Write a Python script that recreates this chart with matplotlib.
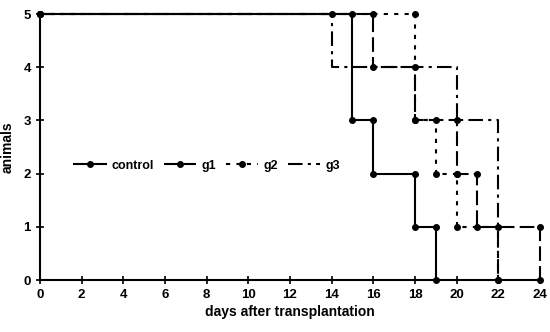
import matplotlib

matplotlib.use("Agg")
import matplotlib.pyplot as plt
from matplotlib.lines import Line2D

# step curves: corners (day, animals)
control_x = [0, 15, 15, 16, 16, 18, 18, 19, 19]
control_y = [5, 5, 3, 3, 2, 2, 1, 1, 0]

g1_x = [0, 16, 16, 18, 18, 20, 20, 21, 21, 24, 24]
g1_y = [5, 5, 4, 4, 3, 3, 2, 2, 1, 1, 0]

g2_x = [0, 18, 18, 19, 19, 20, 20, 22, 22]
g2_y = [5, 5, 3, 3, 2, 2, 1, 1, 0]

g3_x = [0, 14, 14, 20, 20, 22, 22]
g3_y = [5, 5, 4, 4, 3, 3, 0]

series = [
    ("control", control_x, control_y, "-", None),
    ("g1", g1_x, g1_y, (0, (7, 2.5)), None),
    ("g2", g2_x, g2_y, (0, (2, 3)), None),
    ("g3", g3_x, g3_y, (0, (7, 2.5, 1.5, 2.5)), [0, 1, 6]),
]

fig = plt.figure(figsize=(5.5, 3.32), dpi=100)
ax = fig.add_axes([0.0727, 0.1566, 0.9091, 0.8012])

handles = []
for name, xs, ys, ls, mev in series:
    ax.plot(xs, ys, color="black", linestyle=ls, linewidth=1.5,
            marker="o", markersize=4, markevery=mev, clip_on=False)
    handles.append(Line2D([], [], color="black", linestyle=ls, linewidth=1.5,
                          marker="o" if mev is None else None, markersize=4,
                          label=name))

ax.set_xlim(0, 24)
ax.set_ylim(0, 5)
ax.set_xticks(range(0, 25, 2))
ax.set_yticks(range(0, 6))
ax.spines["top"].set_visible(False)
ax.spines["right"].set_visible(False)
ax.spines["left"].set_linewidth(1.5)
ax.spines["bottom"].set_linewidth(1.5)
ax.tick_params(direction="inout", length=6, width=1.2, labelsize=9.5)
for lab in ax.get_xticklabels() + ax.get_yticklabels():
    lab.set_fontweight("bold")
    lab.set_family(["Liberation Sans Narrow", "Liberation Sans", "DejaVu Sans"])

ax.set_xlabel("days after transplantation", fontsize=10, fontweight="bold",
              family=["Liberation Sans", "DejaVu Sans"], labelpad=3)
ax.set_ylabel("animals", fontsize=10, fontweight="bold",
              family=["Liberation Sans", "DejaVu Sans"], labelpad=6)

ax.legend(handles=handles, loc="center left", bbox_to_anchor=(0.045, 0.43),
          ncol=4, frameon=False, handlelength=2.6, handletextpad=0.4,
          columnspacing=0.8,
          prop={"weight": "bold", "size": 9,
                "family": ["Liberation Sans", "DejaVu Sans"]})

fig.savefig("out.png", dpi=100)
